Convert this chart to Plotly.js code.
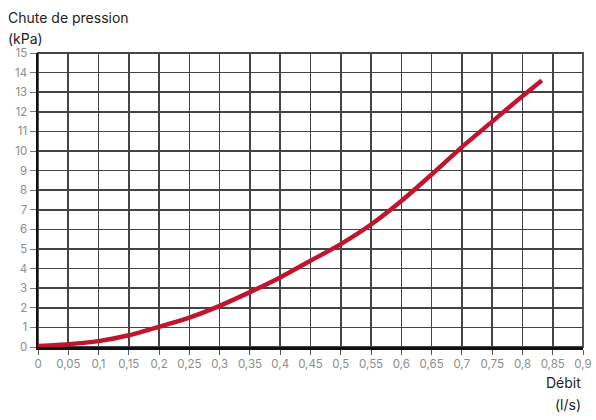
<!DOCTYPE html>
<html>
    <head>
        <meta charset="utf-8">
        <title>Chute de pression</title>
        <script src="https://cdn.plot.ly/plotly-3.0.1.min.js" charset="utf-8"></script>
        <style>
            *{
                box-sizing: border-box;
                margin: 0px;
                padding: 0px;
            }
            body{
                background: white;
            }
            #grafik{
                width: 596px;
                height: 420px;
            }
        </style>
    </head>
    <body>
        <div id="grafik"></div>
    </body>
    <script>
        // данные
        const debit = [0, 0.05, 0.1, 0.15, 0.2, 0.25, 0.3, 0.35, 0.4, 0.45, 0.5, 0.55, 0.6, 0.65, 0.7, 0.75, 0.8, 0.832];
        const chute = [0.05, 0.14, 0.3, 0.6, 1.03, 1.5, 2.1, 2.8, 3.55, 4.4, 5.25, 6.25, 7.45, 8.8, 10.2, 11.5, 12.8, 13.6];

        const xTicks = [0, 0.05, 0.1, 0.15, 0.2, 0.25, 0.3, 0.35, 0.4, 0.45, 0.5, 0.55, 0.6, 0.65, 0.7, 0.75, 0.8, 0.85, 0.9];
        const xTickText = ["0", "0,05", "0,1", "0,15", "0,2", "0,25", "0,3", "0,35", "0,4", "0,45", "0,5", "0,55", "0,6", "0,65", "0,7", "0,75", "0,8", "0,85", "0,9"];
        const yTicks = [0, 1, 2, 3, 4, 5, 6, 7, 8, 9, 10, 11, 12, 13, 14, 15];

        const police = 'Inter, "Noto Sans", sans-serif';

        let courbe = {
            x: debit,
            y: chute,
            type: 'scatter',
            mode: 'lines',
            line: {color: '#c0152f', width: 4.5, shape: 'spline', smoothing: 0.6},
            hoverinfo: 'skip'
        };

        // подписи осей - отдельными аннотациями
        function titre(text, x, y, xanchor) {
            return {
                text: text,
                xref: 'paper', yref: 'paper',
                x: x, y: y,
                xanchor: xanchor, yanchor: 'middle',
                showarrow: false,
                font: {family: police, size: 14, color: '#222'}
            };
        }

        let layout = {
            width: 596,
            height: 420,
            margin: {l: 38, r: 13, t: 53, b: 73},
            paper_bgcolor: 'white',
            plot_bgcolor: 'white',
            showlegend: false,
            font: {family: police, size: 11, color: '#8c8c8c'},
            xaxis: {
                range: [0, 0.9],
                tickvals: xTicks,
                ticktext: xTickText,
                showgrid: true,
                gridcolor: '#444',
                gridwidth: 1.6,
                zeroline: false,
                showline: true,
                linecolor: '#111',
                linewidth: 2.5,
                ticks: 'outside',
                ticklen: 5,
                tickcolor: '#555',
                tickfont: {family: police, size: 11.5, color: '#8c8c8c'},
                fixedrange: true
            },
            yaxis: {
                range: [0, 15],
                tickvals: yTicks,
                showgrid: true,
                gridcolor: '#444',
                gridwidth: 1.6,
                zeroline: false,
                showline: true,
                linecolor: '#111',
                linewidth: 2.5,
                ticks: 'outside',
                ticklen: 6,
                tickcolor: '#777',
                tickfont: {family: police, size: 11.5, color: '#8c8c8c'},
                fixedrange: true
            },
            shapes: [
                {
                    type: 'rect', xref: 'paper', yref: 'paper',
                    x0: 0, x1: 1, y0: 0, y1: 1,
                    line: {color: '#444', width: 1.8},
                    layer: 'below'
                }
            ],
            annotations: [
                titre('Chute de pression', -0.058, 1.122, 'left'),
                titre('(kPa)', -0.058, 1.051, 'left'),
                titre('Débit', 1.0, -0.122, 'right'),
                titre('(l/s)', 1.0, -0.197, 'right')
            ]
        };

        Plotly.newPlot('grafik', [courbe], layout, {displayModeBar: false, staticPlot: true});
    </script>
</html>
